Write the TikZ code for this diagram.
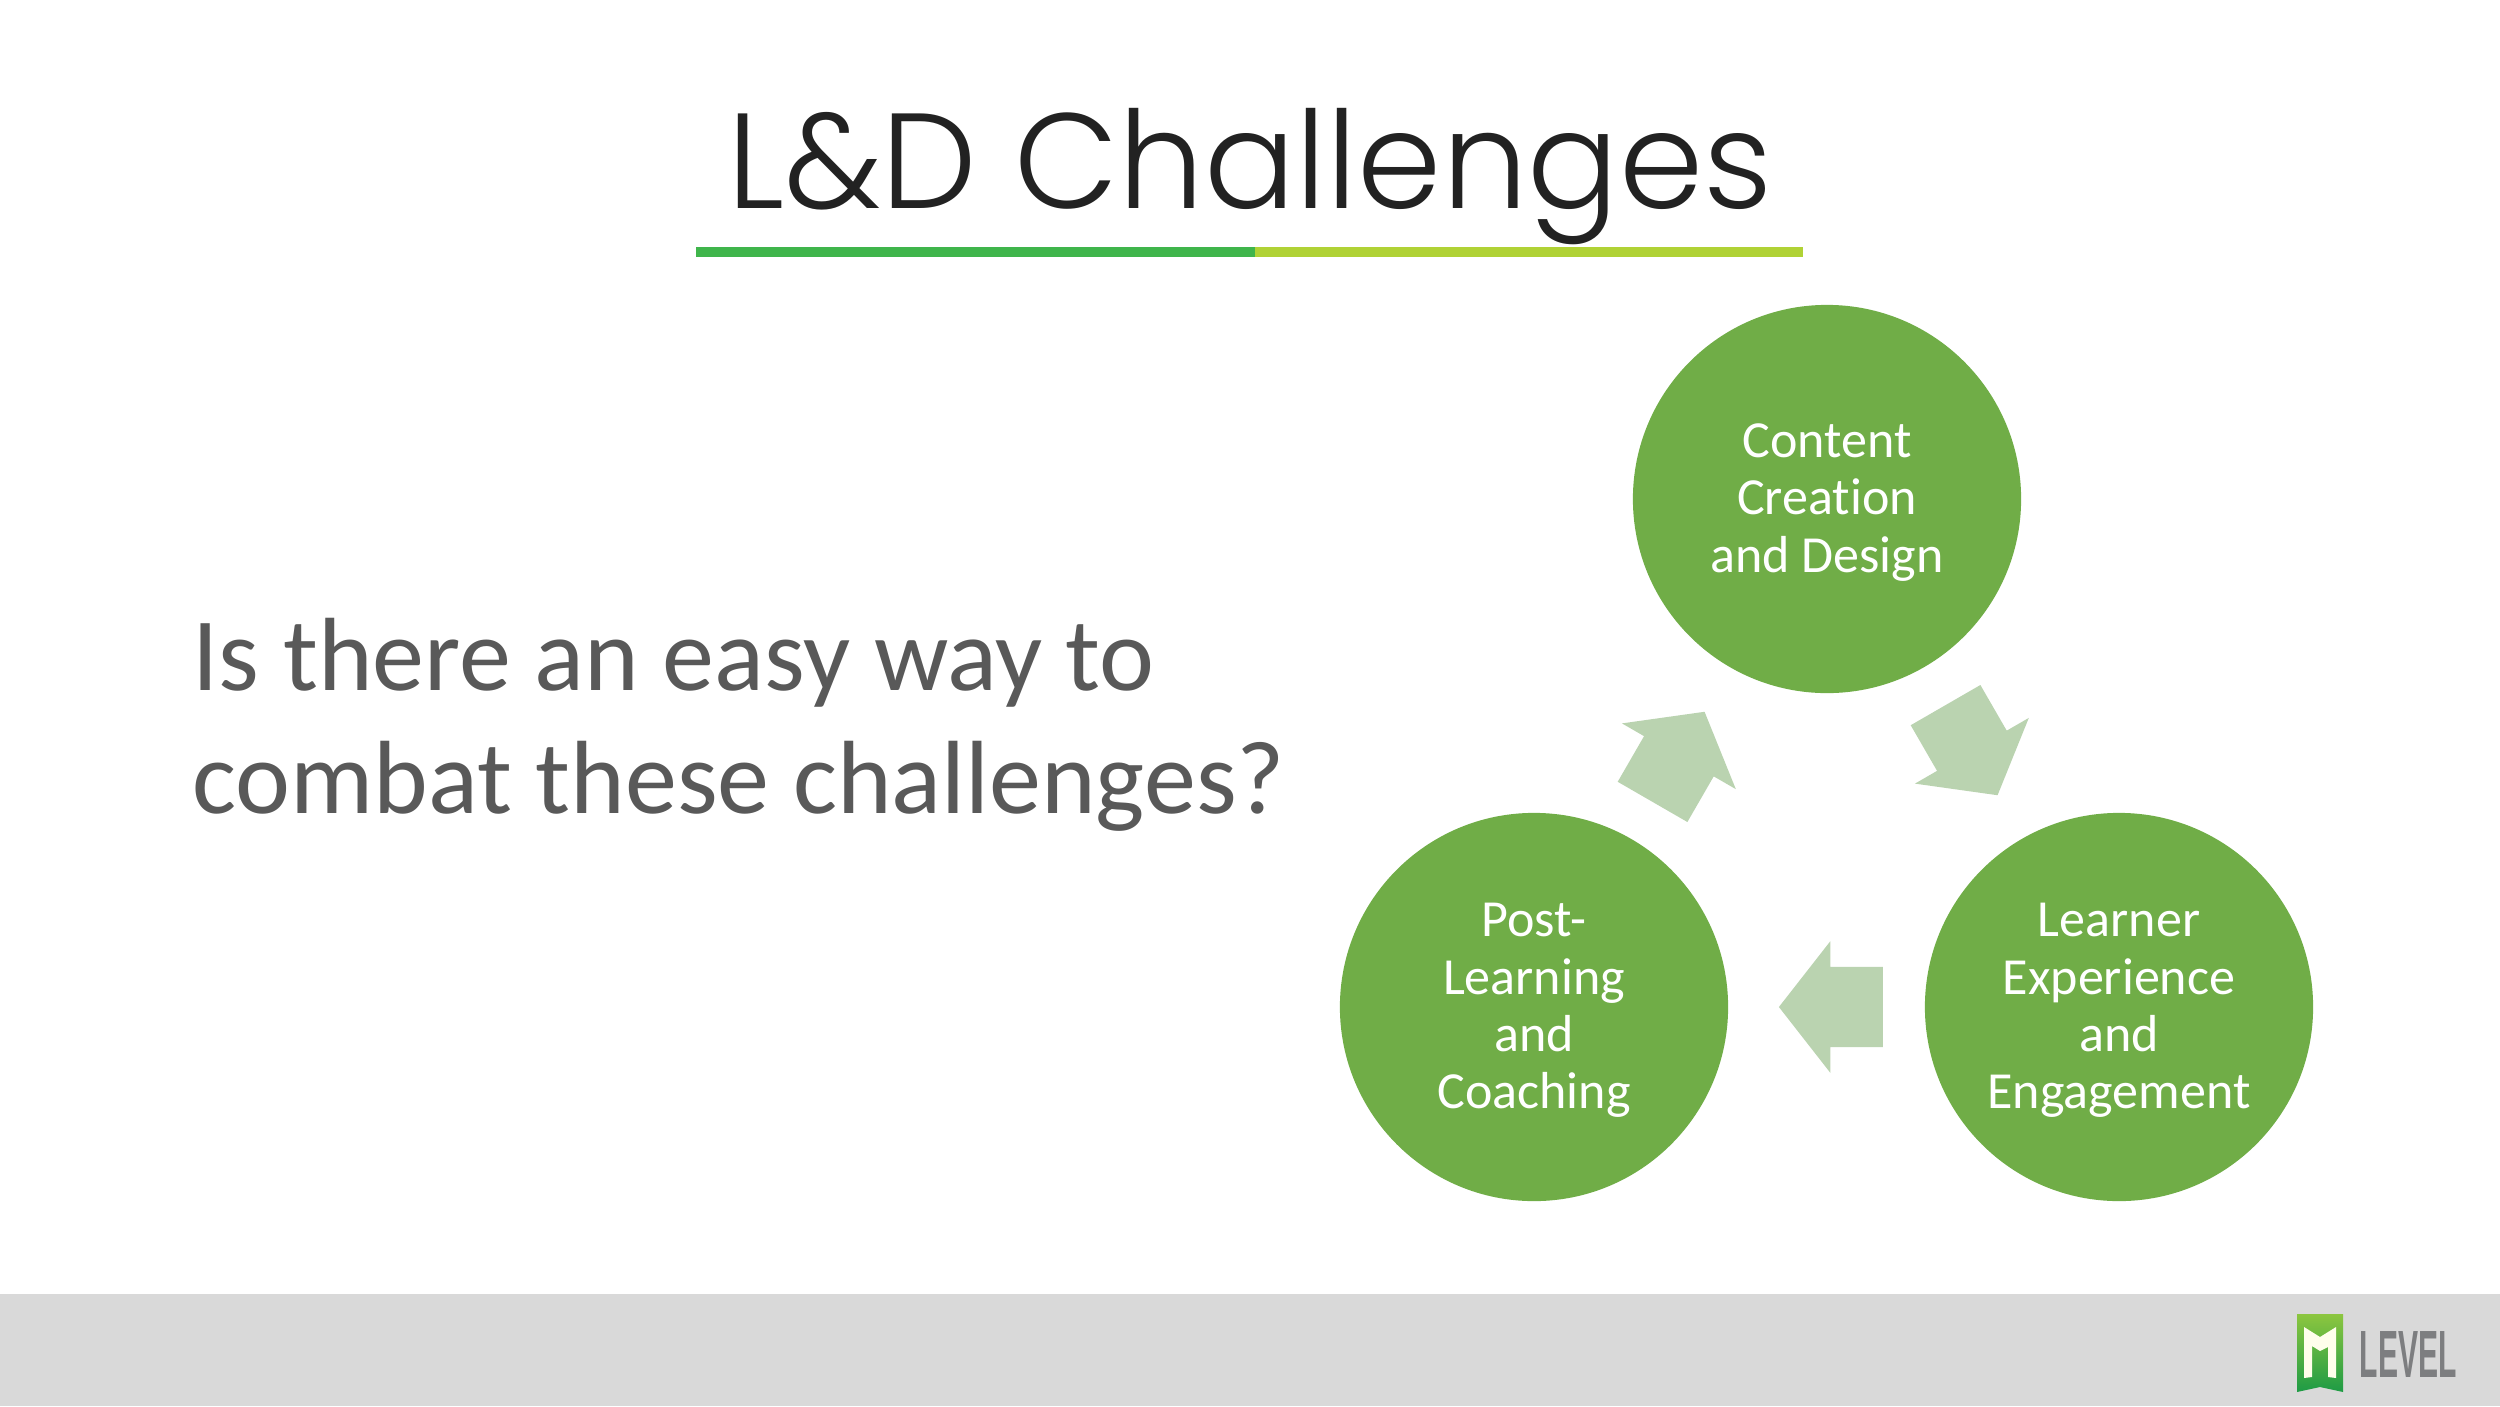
\documentclass[tikz,border=0pt]{standalone}
\usepackage{fontspec}
\setmainfont[Ligatures=NoCommon]{Carlito}
\newfontfamily\titlefont{Poppins Light}
\newfontfamily\logofont{Liberation Sans}
\usetikzlibrary{shapes.arrows}
\definecolor{circlegreen}{HTML}{70AD47}
\definecolor{arrowgreen}{HTML}{BAD3B0}
\definecolor{footgray}{HTML}{D9D9D9}
\definecolor{bodygray}{HTML}{595959}
\definecolor{titleblack}{HTML}{222222}
\definecolor{barleft}{HTML}{3FB54B}
\definecolor{barright}{HTML}{B0D235}
\definecolor{logogray}{HTML}{7D7E80}
\definecolor{logotop}{HTML}{8CC63F}
\definecolor{logobottom}{HTML}{1E9B45}
\tikzset{
  topic/.style={circle, fill=circlegreen, minimum size=3.88cm, inner sep=0pt},
  topictext/.style={text=white, inner sep=0pt, align=center, yshift=-1pt,
    font=\fontsize{14.8}{16.3}\selectfont},
  flow/.style={single arrow, fill=arrowgreen, anchor=tip, inner xsep=0pt, inner ysep=0.395cm, minimum height=1.04cm,
    single arrow head extend=0.255cm, single arrow tip angle=104}
}
\begin{document}
\begin{tikzpicture}[x=0.01cm,y=-0.01cm]
\useasboundingbox (0,0) rectangle (2500,1406);
\fill[footgray] (0,1294) rectangle (2500,1406);
% title and bar
\node[anchor=base, text=titleblack, inner sep=0pt, font=\titlefont\fontsize{38.5}{46}\selectfont] (title) at (1250,208) {L\&D Challenges};
\fill[barleft] (696,247) rectangle (1255,257);
\fill[barright] (1255,247) rectangle (1803,257);
\node[anchor=west, text=bodygray, inner sep=0pt, align=left, font=\fontsize{29.6}{35.1}\selectfont] (question) at (192,725) {Is there an easy way to\\combat these challenges?};
% the cycle
\node[topic] (content) at (1827,499) {};
\node[topic] (learner) at (2119,1007) {};
\node[topic] (post) at (1534,1007) {};
\node[topictext] (contenttext) at (content) {Content\\Creation\\and Design};
\node[topictext] (learnertext) at (learner) {Learner\\Experience\\and\\Engagement};
\node[topictext] (posttext) at (post) {Post-\\Learning\\and\\Coaching};
\node[flow, rotate=-60] (flowa) at (1998,796) {};
\node[flow, rotate=180] (flowb) at (1778,1007) {};
\node[flow, rotate=60] (flowc) at (1705,711) {};
% logo
\shade[top color=logotop, bottom color=logobottom] (2297,1314) -- (2343,1314) -- (2343,1392) -- (2320,1387) -- (2297,1392) -- cycle;
\fill[white!92!yellow] (2304,1327) -- (2320,1337) -- (2336,1327) -- (2336,1378) -- (2328,1377) -- (2328,1347) -- (2320,1351) -- (2312,1346) -- (2312,1377) -- (2304,1378) -- cycle;
\node[anchor=base west, inner sep=0pt, text=logogray, font=\logofont\bfseries\fontsize{19}{19}\selectfont] (level) at (2359,1377) {\scalebox{0.45}[1]{LEVEL}};
\end{tikzpicture}
\end{document}
